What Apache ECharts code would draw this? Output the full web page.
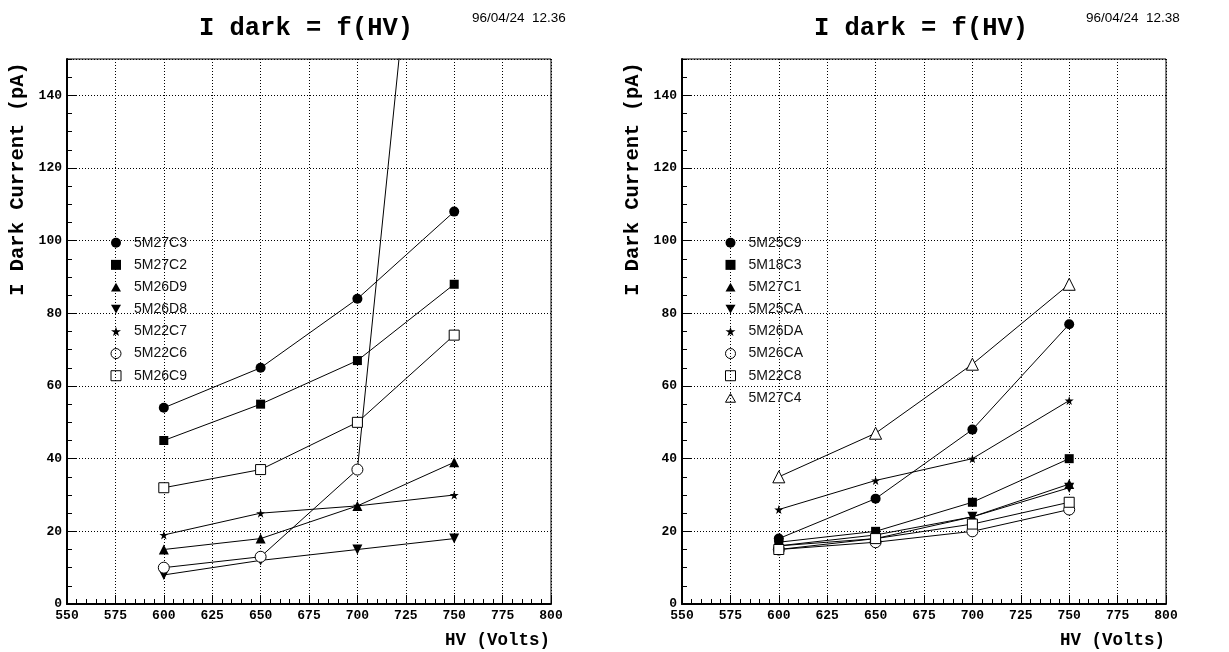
<!DOCTYPE html>
<html><head><meta charset="utf-8">
<script src="https://cdn.jsdelivr.net/npm/echarts@6/dist/echarts.min.js"></script>
<style>html,body{margin:0;padding:0;background:#fff}#c{width:1229px;height:652px}</style>
</head><body><div id="c"></div>
<script>
// ---- data ----
const hv = [600, 650, 700, 750];
const xTickLabels = ['550','575','600','625','650','675','700','725','750','775','800'];
const yTickLabels = ['0','20','40','60','80','100','120','140'];

// left panel (96/04/24 12.36)
const leftNames = ['5M27C3','5M27C2','5M26D9','5M26D8','5M22C7','5M22C6','5M26C9'];
const v5M27C3 = [54, 65, 84, 108];
const v5M27C2 = [45, 55, 67, 88];
const v5M26D9 = [15, 18, 27, 39];
const v5M26D8 = [8, 12, 15, 18];
const v5M22C7 = [19, 25, 27, 30];
const v5M22C6 = [10, 13, 37, 300];
const v5M26C9 = [32, 37, 50, 74];
const leftValues = [v5M27C3, v5M27C2, v5M26D9, v5M26D8, v5M22C7, v5M22C6, v5M26C9];

// right panel (96/04/24 12.38)
const rightNames = ['5M25C9','5M18C3','5M27C1','5M25CA','5M26DA','5M26CA','5M22C8','5M27C4'];
const v5M25C9 = [18, 29, 48, 77];
const v5M18C3 = [17, 20, 28, 40];
const v5M27C1 = [16, 19, 24, 33];
const v5M25CA = [16, 18, 24, 32];
const v5M26DA = [26, 34, 40, 56];
const v5M26CA = [15, 17, 20, 26];
const v5M22C8 = [15, 18, 22, 28];
const v5M27C4 = [35, 47, 66, 88];
const rightValues = [v5M25C9, v5M18C3, v5M27C1, v5M25CA, v5M26DA, v5M26CA, v5M22C8, v5M27C4];

const titleText = 'I dark = f(HV)';
const dateLeft = '96/04/24  12.36';
const dateRight = '96/04/24  12.38';
const yName = 'I Dark Current (pA)';
const xName = 'HV (Volts)';

// ---- styles ----
const STAR = 'path://M50,0 L61,35 L98,35 L68,57 L79,91 L50,70 L21,91 L32,57 L2,35 L39,35 Z';
const DOWN = 'path://M0,0 L100,0 L50,87 Z';
const UP = 'path://M50,0 L100,87 L0,87 Z';
const markers = [
  {symbol: 'circle', size: 10, open: false},
  {symbol: 'rect', size: 9, open: false},
  {symbol: UP, size: 10, open: false},
  {symbol: DOWN, size: 10, open: false},
  {symbol: STAR, size: 9, open: false},
  {symbol: 'circle', size: 11, open: true},
  {symbol: 'rect', size: 10, open: true},
  {symbol: UP, size: 12, open: true}
];

const MONO = '"Liberation Mono", "DejaVu Sans Mono", monospace';
const SANS = '"Liberation Sans", Arial, sans-serif';

const grids = [
  {left: 67, top: 59, width: 484, height: 545, show: true, borderColor: '#000', borderWidth: 1, backgroundColor: 'transparent'},
  {left: 682, top: 59, width: 484, height: 545, show: true, borderColor: '#000', borderWidth: 1, backgroundColor: 'transparent'}
];

function majorX(gi) {
  return {
    type: 'value', gridIndex: gi, position: 'bottom', offset: 0,
    min: 550, max: 800, interval: 25,
    axisLine: {show: true, lineStyle: {color: '#000', width: 2}},
    axisTick: {show: true, inside: true, length: 9, lineStyle: {color: '#000', width: 1}},
    axisLabel: {show: true, margin: 5, color: '#000', fontFamily: MONO, fontWeight: 'bold', fontSize: 13,
      formatter: (v) => xTickLabels[Math.round((v - 550) / 25)] ?? ''},
    splitLine: {show: true, lineStyle: {color: '#000', width: 1, type: [1, 2]}}
  };
}
function minorX(gi) {
  return {
    type: 'value', gridIndex: gi, position: 'bottom', offset: 0,
    min: 550, max: 800, interval: 5,
    axisLine: {show: false}, axisLabel: {show: false}, splitLine: {show: false},
    axisTick: {show: true, inside: true, length: 5, lineStyle: {color: '#000', width: 1}}
  };
}
function majorY(gi) {
  return {
    type: 'value', gridIndex: gi, position: 'left', offset: 0,
    min: 0, max: 150, interval: 20,
    axisLine: {show: true, lineStyle: {color: '#000', width: 2}},
    axisTick: {show: true, inside: true, length: 9, lineStyle: {color: '#000', width: 1}},
    axisLabel: {show: true, margin: 5, color: '#000', fontFamily: MONO, fontWeight: 'bold', fontSize: 13,
      showMaxLabel: false,
      formatter: (v) => (v % 20 === 0 ? (yTickLabels[v / 20] ?? '') : '')},
    splitLine: {show: true, lineStyle: {color: '#000', width: 1, type: [1, 2]}}
  };
}
function minorY(gi) {
  return {
    type: 'value', gridIndex: gi, position: 'left', offset: 0,
    min: 0, max: 150, interval: 5,
    axisLine: {show: false}, axisLabel: {show: false}, splitLine: {show: false},
    axisTick: {show: true, inside: true, length: 5, lineStyle: {color: '#000', width: 1}}
  };
}

function mkSeries(name, vals, mk, gi) {
  return {
    type: 'line', name: name,
    xAxisIndex: gi * 2, yAxisIndex: gi * 2,
    data: hv.map((x, i) => [x, vals[i]]),
    symbol: mk.symbol, symbolSize: mk.size, showAllSymbol: true,
    lineStyle: {color: '#000', width: 1},
    itemStyle: mk.open ? {color: '#fff', borderColor: '#000', borderWidth: 1}
                       : {color: '#000', borderColor: '#000', borderWidth: 0},
    emphasis: {disabled: true},
    clip: true, z: 3
  };
}

const series = [];
leftNames.forEach((n, i) => series.push(mkSeries(n, leftValues[i], markers[i], 0)));
rightNames.forEach((n, i) => series.push(mkSeries(n, rightValues[i], markers[i], 1)));

function legendData(names) {
  return names.map((n, i) => ({
    name: n, icon: markers[i].symbol,
    itemStyle: markers[i].open ? {color: 'transparent', borderColor: '#000', borderWidth: 1}
                               : {color: '#000', borderColor: '#000', borderWidth: 0}
  }));
}
function mkLegend(names, left) {
  return {
    show: true, orient: 'vertical', left: left, top: 235.7,
    itemWidth: 10, itemHeight: 10, itemGap: 8.17, padding: 0,
    selectedMode: false,
    textStyle: {fontFamily: SANS, fontSize: 14, color: '#111', padding: [0, 0, 0, 8], lineHeight: 10},
    data: legendData(names)
  };
}

function txt(text, x, y, font, size, weight, align, rot) {
  return {
    type: 'text', x: x, y: y, rotation: rot || 0, z: 10,
    style: {text: text, fontFamily: font, fontSize: size, fontWeight: weight,
      fill: '#000', align: align, verticalAlign: 'middle'}
  };
}

const option = {
  animation: false,
  backgroundColor: '#fff',
  grid: grids,
  xAxis: [majorX(0), minorX(0), majorX(1), minorX(1)],
  yAxis: [majorY(0), minorY(0), majorY(1), minorY(1)],
  legend: [mkLegend(leftNames, 110.5), mkLegend(rightNames, 725)],
  series: series,
  graphic: [
    txt(titleText, 306, 29, MONO, 25.5, 'bold', 'center'),
    txt(titleText, 921, 29, MONO, 25.5, 'bold', 'center'),
    txt(dateLeft, 472, 18, SANS, 13.5, 'normal', 'left'),
    txt(dateRight, 1086, 18, SANS, 13.5, 'normal', 'left'),
    txt(yName, 18, 179, MONO, 20.5, 'bold', 'center', Math.PI / 2),
    txt(yName, 633, 179, MONO, 20.5, 'bold', 'center', Math.PI / 2),
    txt(xName, 550, 641, MONO, 17.5, 'bold', 'right'),
    txt(xName, 1165, 641, MONO, 17.5, 'bold', 'right')
  ]
};

const chart = echarts.init(document.getElementById('c'), null, {renderer: 'canvas'});
chart.setOption(option);
</script>
</body></html>
